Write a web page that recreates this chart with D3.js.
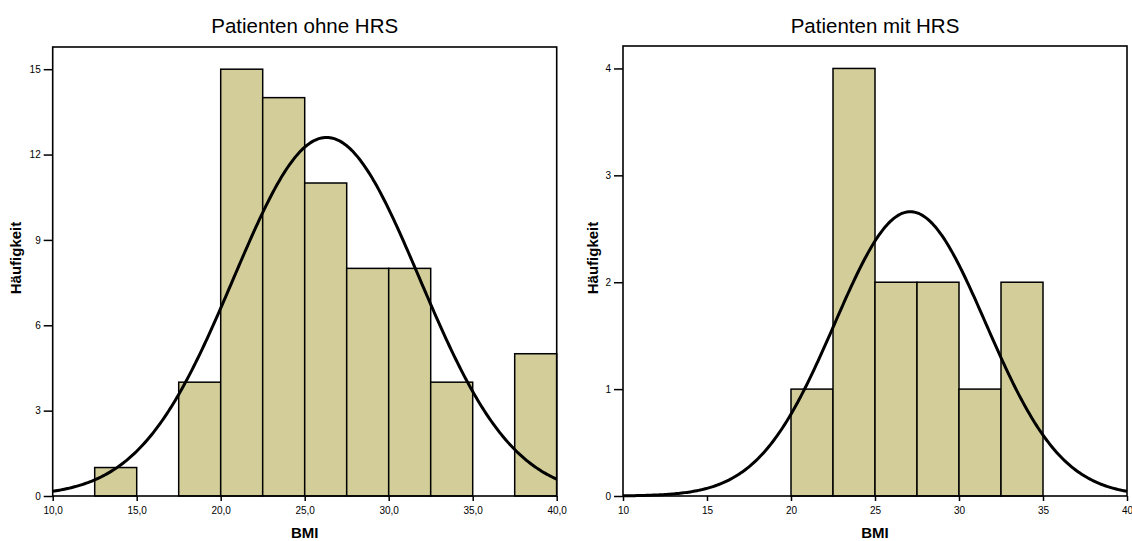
<!DOCTYPE html>
<html>
<head>
<meta charset="UTF-8">
<title>BMI Histogramme</title>
<script src="https://cdn.jsdelivr.net/npm/d3@7"></script>
<style>
    body { margin: 0; background: #fff; }
    text { font-family: Arial, "Liberation Sans", sans-serif; fill: #000; }
    .title { font-size: 20.5px; }
    .axis-title { font-size: 15px; font-weight: bold; }
    .tick text { font-size: 10px; }
    .bar { fill: #d3ce99; stroke: #000; stroke-width: 1.5; }
    .curve { fill: none; stroke: #000; stroke-width: 3; }
    .frame { fill: none; stroke: #000; stroke-width: 1.6; }
</style>
</head>
<body>
<div id="chart"></div>
<script>
    // Patienten ohne HRS
    var binStartOhne = [12.5, 17.5, 20, 22.5, 25, 27.5, 30, 32.5, 37.5];
    var countOhne = [1, 4, 15, 14, 11, 8, 8, 4, 5];
    var meanOhne = 26.3, sdOhne = 5.54, nOhne = 70;
    var yTicksOhne = [0, 3, 6, 9, 12, 15];

    // Patienten mit HRS
    var binStartMit = [20, 22.5, 25, 27.5, 30, 32.5];
    var countMit = [1, 4, 2, 2, 1, 2];
    var meanMit = 27.1, sdMit = 4.5, nMit = 12;
    var yTicksMit = [0, 1, 2, 3, 4];

    var binWidth = 2.5;
    var xTicks = [10, 15, 20, 25, 30, 35, 40];

    var width = 1132, height = 541;

    var svg = d3.select("#chart").append("svg")
        .attr("width", width)
        .attr("height", height);

    var panels = [
        {title: "Patienten ohne HRS", starts: binStartOhne, counts: countOhne,
         mean: meanOhne, sd: sdOhne, n: nOhne, yTicks: yTicksOhne, yMax: 15.78,
         left: 52.7, right: 556.7, top: 47, bottom: 496, labelX: 16, fmt: ",.1f"},
        {title: "Patienten mit HRS", starts: binStartMit, counts: countMit,
         mean: meanMit, sd: sdMit, n: nMit, yTicks: yTicksMit, yMax: 4.21,
         left: 623, right: 1127, top: 46, bottom: 496, labelX: 593, fmt: "d"}
    ];

    var deLocale = d3.formatLocale({decimal: ",", thousands: ".", grouping: [3], currency: ["", " €"]});

    panels.forEach(function (p) {
        var x = d3.scaleLinear().domain([10, 40]).range([p.left, p.right]);
        var y = d3.scaleLinear().domain([0, p.yMax]).range([p.bottom, p.top]);
        var g = svg.append("g");

        var bins = p.starts.map(function (s, i) { return {x0: s, x1: s + binWidth, count: p.counts[i]}; });

        g.selectAll(".bar")
            .data(bins)
            .enter()
            .append("rect")
            .attr("class", "bar")
            .attr("x", function (d) { return x(d.x0); })
            .attr("y", function (d) { return y(d.count); })
            .attr("width", function (d) { return x(d.x1) - x(d.x0); })
            .attr("height", function (d) { return y(0) - y(d.count); });

        // normal curve scaled to counts
        var k = p.n * binWidth / (p.sd * Math.sqrt(2 * Math.PI));
        var pts = d3.range(0, 301).map(function (i) {
            var v = 10 + i * 0.1;
            var z = (v - p.mean) / p.sd;
            return [v, k * Math.exp(-0.5 * z * z)];
        });
        g.append("path")
            .datum(pts)
            .attr("class", "curve")
            .attr("d", d3.line()
                .x(function (d) { return x(d[0]); })
                .y(function (d) { return y(d[1]); }));

        g.append("rect")
            .attr("class", "frame")
            .attr("x", p.left).attr("y", p.top)
            .attr("width", p.right - p.left).attr("height", p.bottom - p.top);

        var yAxis = g.append("g")
            .attr("transform", "translate(" + p.left + ",0)")
            .call(d3.axisLeft(y).tickValues(p.yTicks).tickSize(9).tickPadding(3).tickFormat(d3.format("d")));
        yAxis.select(".domain").remove();
        yAxis.selectAll(".tick line").attr("stroke-width", 1.5);

        var xAxis = g.append("g")
            .attr("transform", "translate(0," + p.bottom + ")")
            .call(d3.axisBottom(x).tickValues(xTicks).tickSize(5).tickPadding(6).tickFormat(deLocale.format(p.fmt)));
        xAxis.select(".domain").remove();
        xAxis.selectAll(".tick line").attr("stroke-width", 1.5);

        g.append("text")
            .attr("class", "title")
            .attr("x", (p.left + p.right) / 2)
            .attr("y", 33)
            .attr("text-anchor", "middle")
            .text(p.title);

        g.append("text")
            .attr("class", "axis-title")
            .attr("x", (p.left + p.right) / 2)
            .attr("y", 538)
            .attr("text-anchor", "middle")
            .text("BMI");

        g.append("text")
            .attr("class", "axis-title")
            .attr("transform", "translate(" + (p.labelX + 5) + ",258) rotate(-90)")
            .attr("text-anchor", "middle")
            .text("Häufigkeit");
    });
</script>
</body>
</html>
